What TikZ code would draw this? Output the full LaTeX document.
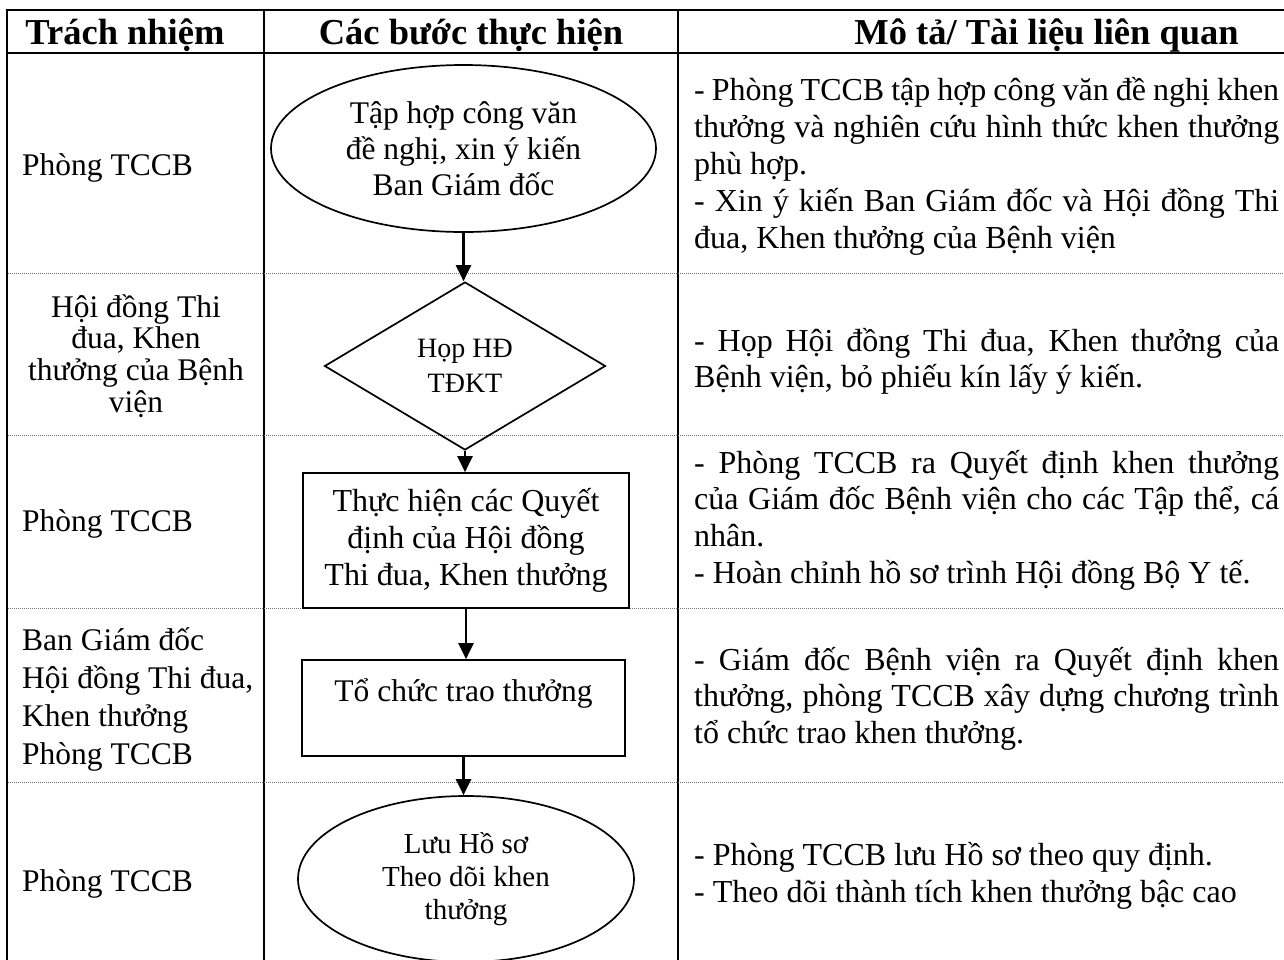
\documentclass[tikz,border=0pt]{standalone}
\usepackage{fontspec}
\setmainfont{Liberation Serif}
\usetikzlibrary{shapes.geometric,arrows.meta}
\newcommand{\JLine}[1]{\makebox[\linewidth][s]{#1}\par}
\newcommand{\LLine}[1]{\mbox{#1}\par}
\begin{document}
\begin{tikzpicture}[x=1pt,y=-1pt,
  tline/.style={line width=2pt},
  dotline/.style={line width=1pt, black!55, dash pattern=on 1pt off 1pt},
  shp/.style={draw, line width=1.7pt, inner sep=0pt, align=center},
  mainf/.style={font=\fontsize{31.5}{36}\selectfont},
  arr/.style={line width=2.2pt, -{Triangle[length=16pt,width=15pt]}},
  txt/.style={inner sep=0pt},
  hdr/.style={inner sep=0pt, anchor=base, font=\fontsize{36.5}{40}\selectfont\bfseries}
]
\useasboundingbox (0,0) rectangle (1284,959);
\clip (0,0) rectangle (1284,959);
\fill[white] (0,0) rectangle (1284,959);

% table frame
\draw[tline] (6,10) -- (1290,10);
\draw[tline] (6,53) -- (1290,53);
\draw[tline] (7,9) -- (7,970);
\draw[tline] (264,9) -- (264,970);
\draw[tline] (678,9) -- (678,970);
\foreach \yy in {273,435,608.5,782.5} \draw[dotline] (8,\yy) -- (1284,\yy);

% headers
\node[hdr] (h1) at (125,44.5) {Trách nhiệm};
\node[hdr] (h2) at (471,44.5) {Các bước thực hiện};
\node[hdr] (h3) at (1046.5,44.5) {Mô tả/ Tài liệu liên quan};

% left column
\node[txt, anchor=base west, font=\fontsize{31.5}{36}\selectfont] (r1) at (22,175) {Phòng TCCB};
\node[txt, anchor=base, font=\fontsize{31.5}{31.7}\selectfont] (r2) at (136,317)
  {\begin{tabular}[t]{@{}c@{}}Hội đồng Thi\\đua, Khen\\thưởng của Bệnh\\viện\end{tabular}};
\node[txt, anchor=base west, font=\fontsize{31.5}{36}\selectfont] (r3) at (22,531) {Phòng TCCB};
\node[txt, anchor=base west, font=\fontsize{31.5}{38.3}\selectfont] (r4) at (22,650)
  {\begin{tabular}[t]{@{}l@{}}Ban Giám đốc\\Hội đồng Thi đua,\\Khen thưởng\\Phòng TCCB\end{tabular}};
\node[txt, anchor=base west, font=\fontsize{31.5}{36}\selectfont] (r5) at (22,891) {Phòng TCCB};

% flow shapes
\node[shp, ellipse, mainf, minimum width=385pt, minimum height=167pt] (s1) at (463.5,148.5)
  {Tập hợp công văn\\đề nghị, xin ý kiến\\Ban Giám đốc};
\node[shp, diamond, font=\fontsize{28}{35}\selectfont, minimum width=281pt, minimum height=168pt, aspect=1.67] (s2) at (465,366)
  {Họp HĐ\\TĐKT};
\node[shp, rectangle, font=\fontsize{32}{37}\selectfont, minimum width=326pt, minimum height=135pt] (s3) at (466,540.5)
  {Thực hiện các Quyết\\định của Hội đồng\\Thi đua, Khen thưởng};
\node[shp, rectangle, mainf, minimum width=323pt, minimum height=96pt, text height=28pt, text depth=42pt] (s4) at (463.5,708)
  {Tổ chức trao thưởng};
\node[shp, ellipse, font=\fontsize{29}{33}\selectfont, minimum width=336pt, minimum height=166pt] (s5) at (466,879)
  {Lưu Hồ sơ\\Theo dõi khen\\thưởng};

% connectors
\draw[arr] (s1.south) -- (s1.south |- s2.north);
\draw[arr] (s2.south) -- (s2.south |- s3.north);
\draw[arr] (s3.south) -- (s3.south |- s4.north);
\draw[arr] (s4.south) -- (s4.south |- s5.north);

% right column
\node[txt, anchor=base west] (d1) at (694,100) {\begin{minipage}[t]{585pt}\fontsize{32}{37}\selectfont
\JLine{- Phòng TCCB tập hợp công văn đề nghị khen}
\JLine{thưởng và nghiên cứu hình thức khen thưởng}
\LLine{phù hợp.}
\JLine{- Xin ý kiến Ban Giám đốc và Hội đồng Thi}
\LLine{đua, Khen thưởng của Bệnh viện}
\end{minipage}};
\node[txt, anchor=base west] (d2) at (694,351) {\begin{minipage}[t]{585pt}\fontsize{32}{36}\selectfont
\JLine{- Họp Hội đồng Thi đua, Khen thưởng của}
\LLine{Bệnh viện, bỏ phiếu kín lấy ý kiến.}
\end{minipage}};
\node[txt, anchor=base west] (d3) at (694,473) {\begin{minipage}[t]{585pt}\fontsize{32}{36.7}\selectfont
\JLine{- Phòng TCCB ra Quyết định khen thưởng}
\JLine{của Giám đốc Bệnh viện cho các Tập thể, cá}
\LLine{nhân.}
\LLine{- Hoàn chỉnh hồ sơ trình Hội đồng Bộ Y tế.}
\end{minipage}};
\node[txt, anchor=base west] (d4) at (694,670) {\begin{minipage}[t]{585pt}\fontsize{32}{36.5}\selectfont
\JLine{- Giám đốc Bệnh viện ra Quyết định khen}
\JLine{thưởng, phòng TCCB xây dựng chương trình}
\LLine{tổ chức trao khen thưởng.}
\end{minipage}};
\node[txt, anchor=base west] (d5) at (694,865) {\begin{minipage}[t]{585pt}\fontsize{32}{37}\selectfont
\LLine{- Phòng TCCB lưu Hồ sơ theo quy định.}
\LLine{- Theo dõi thành tích khen thưởng bậc cao}
\end{minipage}};
\end{tikzpicture}
\end{document}
